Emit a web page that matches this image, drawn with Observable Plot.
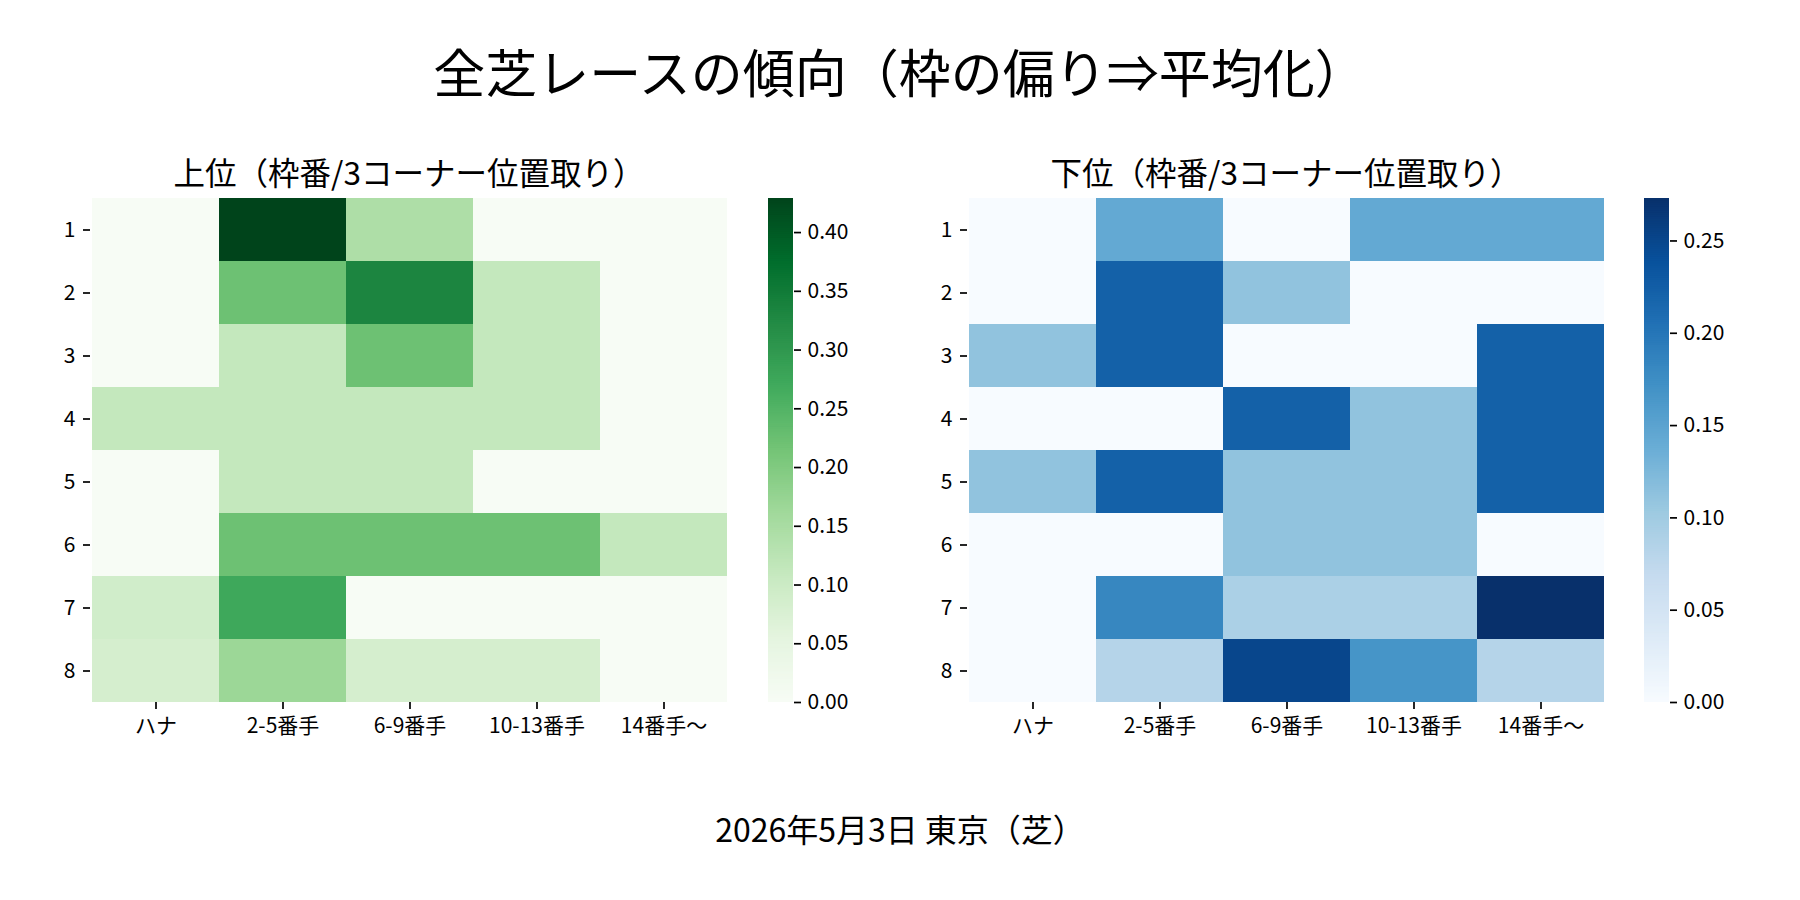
<!DOCTYPE html>
<html>
<head>
<meta charset="utf-8">
<script src="https://cdn.jsdelivr.net/npm/d3@7"></script>
<script src="https://cdn.jsdelivr.net/npm/@observablehq/plot@0.6"></script>
<style>
  html, body { margin: 0; padding: 0; background: #fff; }
  #root { position: relative; width: 1800px; height: 900px; overflow: hidden; font-family: "Noto Sans CJK JP", "Noto Sans", sans-serif; color: #000; }
  .t { position: absolute; text-align: center; line-height: 1; white-space: nowrap; }
  .p { position: absolute; }
</style>
</head>
<body>
<div id="root"></div>
<script>
// ---- data ----
const positions = ["ハナ", "2-5番手", "6-9番手", "10-13番手", "14番手～"];
const gates = ["1", "2", "3", "4", "5", "6", "7", "8"];
// 上位 rates per gate (rows) and 3-corner position (columns)
const upperRates = [
  [0.000, 0.429, 0.143, 0.000, 0.000],
  [0.000, 0.222, 0.333, 0.111, 0.000],
  [0.000, 0.111, 0.222, 0.111, 0.000],
  [0.111, 0.111, 0.111, 0.111, 0.000],
  [0.000, 0.111, 0.111, 0.000, 0.000],
  [0.000, 0.222, 0.222, 0.222, 0.111],
  [0.091, 0.273, 0.000, 0.000, 0.000],
  [0.083, 0.167, 0.083, 0.083, 0.000]
];
// 下位 rates
const lowerRates = [
  [0.000, 0.143, 0.000, 0.143, 0.143],
  [0.000, 0.222, 0.111, 0.000, 0.000],
  [0.111, 0.222, 0.000, 0.000, 0.222],
  [0.000, 0.000, 0.222, 0.111, 0.222],
  [0.111, 0.222, 0.111, 0.111, 0.222],
  [0.000, 0.000, 0.111, 0.111, 0.000],
  [0.000, 0.182, 0.091, 0.091, 0.273],
  [0.000, 0.083, 0.250, 0.167, 0.083]
];
const upperTicks = [0.00, 0.05, 0.10, 0.15, 0.20, 0.25, 0.30, 0.35, 0.40];
const lowerTicks = [0.00, 0.05, 0.10, 0.15, 0.20, 0.25];

const titleText = "全芝レースの傾向（枠の偏り⇒平均化）";
const upperTitle = "上位（枠番/3コーナー位置取り）";
const lowerTitle = "下位（枠番/3コーナー位置取り）";
const captionText = "2026年5月3日 東京（芝）";

// ---- palettes (matplotlib Greens / Blues) ----
const GREENS = ["#f7fcf5","#e5f5e0","#c7e9c0","#a1d99b","#74c476","#41ab5d","#238b45","#006d2c","#00441b"];
const BLUES  = ["#f7fbff","#deebf7","#c6dbef","#9ecae1","#6baed6","#4292c6","#2171b5","#08519c","#08306b"];
const greenInterp = d3.piecewise(d3.interpolateRgb, GREENS);
const blueInterp = d3.piecewise(d3.interpolateRgb, BLUES);

const FONT = '"Noto Sans CJK JP", "Noto Sans", sans-serif';
const hasAxisMarks = typeof Plot.axisX === "function";
const root = document.getElementById("root");

function place(el, left, top) {
  el.classList.add("p");
  el.style.left = left + "px";
  el.style.top = top + "px";
  root.appendChild(el);
}
function text(str, cx, top, size, w) {
  const d = document.createElement("div");
  d.className = "t";
  d.textContent = str;
  d.style.left = (cx - w / 2) + "px";
  d.style.width = w + "px";
  d.style.top = top + "px";
  d.style.fontSize = size + "px";
  root.appendChild(d);
}

function heatmap(rates, interp) {
  const data = gates.flatMap((g, i) => positions.map((p, j) => ({gate: g, pos: p, v: rates[i][j]})));
  const max = d3.max(data, d => d.v);
  const marks = [
    Plot.cell(data, {x: "pos", y: "gate", fill: "v", inset: 0, shapeRendering: "crispEdges"})
  ];
  const opts = {
    width: 740, height: 560,
    marginLeft: 90, marginRight: 12, marginTop: 8, marginBottom: 48,
    style: {fontFamily: FONT, fontSize: "21px", color: "#000", background: "transparent", overflow: "visible"},
    x: {domain: positions, padding: 0, label: null},
    y: {domain: gates, padding: 0, label: null},
    color: {type: "linear", domain: [0, max], interpolate: interp},
    marks
  };
  if (hasAxisMarks) {
    marks.push(Plot.axisX({anchor: "bottom", tickSize: 7, tickPadding: 9, strokeWidth: 1.7, label: null, fontSize: 21}));
    marks.push(Plot.axisY({anchor: "left", tickSize: 7, tickPadding: 8, strokeWidth: 1.7, label: null, fontSize: 21}));
  } else {
    Object.assign(opts.x, {tickSize: 7, tickPadding: 9});
    Object.assign(opts.y, {tickSize: 7, tickPadding: 8});
  }
  return {svg: Plot.plot(opts), max};
}

function colorbar(max, interp, ticks) {
  const N = 240;
  const steps = d3.range(N).map(i => ({
    y1: i * max / N,
    y2: Math.min(max, (i + 1.6) * max / N),
    v: (i + 0.5) * max / N
  }));
  const marks = [Plot.rect(steps, {x1: 0, x2: 1, y1: "y1", y2: "y2", fill: "v"})];
  const opts = {
    width: 100, height: 560,
    marginLeft: 8, marginRight: 67, marginTop: 8, marginBottom: 48,
    style: {fontFamily: FONT, fontSize: "21px", color: "#000", background: "transparent", overflow: "visible"},
    x: {domain: [0, 1], axis: null},
    y: {domain: [0, max], label: null, axis: hasAxisMarks ? null : "right", ticks, tickFormat: d3.format(".2f"), tickSize: 7, tickPadding: 7},
    color: {type: "linear", domain: [0, max], interpolate: interp},
    marks
  };
  if (hasAxisMarks) {
    marks.push(Plot.axisY(ticks, {anchor: "right", tickSize: 7, tickPadding: 7, strokeWidth: 1.7, tickFormat: d3.format(".2f"), label: null, fontSize: 21}));
  }
  return Plot.plot(opts);
}

// title
text(titleText, 900, 45, 52, 1400);

// left panel
const up = heatmap(upperRates, greenInterp);
place(up.svg, 0, 190);
place(colorbar(up.max, greenInterp, upperTicks), 760, 190);
text(upperTitle, 409, 156, 31.5, 800);

// right panel
const lo = heatmap(lowerRates, blueInterp);
place(lo.svg, 877, 190);
place(colorbar(lo.max, blueInterp, lowerTicks), 1636, 190);
text(lowerTitle, 1286, 156, 31.5, 800);

// caption
text(captionText, 900, 812, 32, 900);
</script>
</body>
</html>
